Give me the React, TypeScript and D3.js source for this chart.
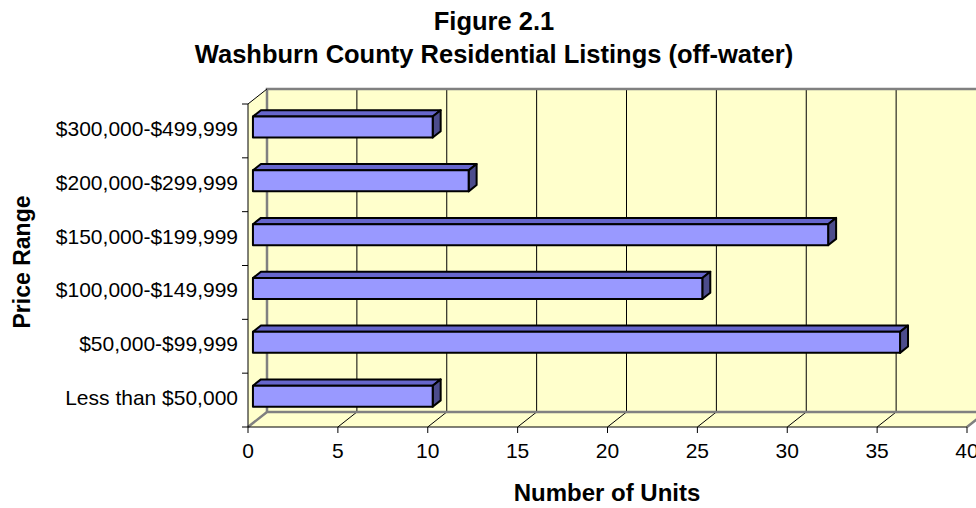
import React from "react";
import * as d3 from "d3";

const categories = [
  "$300,000-$499,999",
  "$200,000-$299,999",
  "$150,000-$199,999",
  "$100,000-$149,999",
  "$50,000-$99,999",
  "Less than $50,000",
];
const units = [10, 12, 32, 25, 36, 10];
const xTicks = [0, 5, 10, 15, 20, 25, 30, 35, 40];

const width = 976,
  height = 508;

// front plane of the 3d box and the depth offset
const left = 248,
  right = 967,
  top = 104,
  bottom = 427;
const depthX = 19,
  depthY = -15;

const FONT = "Arial, 'Liberation Sans', Helvetica, sans-serif";

const App = () => {
  const x = d3.scaleLinear().domain([0, 40]).range([left, right]);
  const y = d3
    .scaleBand()
    .domain(categories)
    .range([top, bottom])
    .paddingInner(0.61)
    .paddingOuter(0.305);
  const band = d3.scaleBand().domain(categories).range([top, bottom]);

  // bars sit from 26% to 68% of the depth
  const f0 = 0.26,
    f1 = 0.68;
  const fx0 = depthX * f0,
    fy0 = depthY * f0,
    fx1 = depthX * f1,
    fy1 = depthY * f1;

  const pts = (a: number[][]) => a.map((p) => p.join(",")).join(" ");

  return (
    <svg
      width={width}
      height={height}
      style={{ position: "absolute", left: 0, top: 0, background: "#fff" }}
      fontFamily={FONT}
    >
      {/* walls */}
      <polygon
        points={pts([
          [left + depthX, top + depthY],
          [right + depthX, top + depthY],
          [right + depthX, bottom + depthY],
          [left + depthX, bottom + depthY],
        ])}
        fill="#FFFFCC"
      />
      <polygon
        points={pts([
          [left, top],
          [left + depthX, top + depthY],
          [left + depthX, bottom + depthY],
          [left, bottom],
        ])}
        fill="#FFFFCC"
      />
      <polygon
        points={pts([
          [left, bottom],
          [right, bottom],
          [right + depthX, bottom + depthY],
          [left + depthX, bottom + depthY],
        ])}
        fill="#FFFFCC"
      />

      {/* gridlines on back wall and floor */}
      {xTicks.slice(1, -1).map((t) => (
        <g key={"g" + t}>
          <line
            x1={x(t) + depthX}
            x2={x(t) + depthX}
            y1={top + depthY}
            y2={bottom + depthY}
            stroke="#000"
            strokeWidth={1}
          />
          <line
            x1={x(t)}
            y1={bottom}
            x2={x(t) + depthX}
            y2={bottom + depthY}
            stroke="#000"
            strokeWidth={1}
          />
        </g>
      ))}

      {/* box edges */}
      <path
        d={`M${left + depthX},${bottom + depthY}V${top + depthY}H${right + depthX}`}
        fill="none"
        stroke="#808080"
        strokeWidth={2.5}
      />
      <path
        d={`M${left},${bottom}L${left + depthX},${bottom + depthY}H${right + depthX}L${right},${bottom}`}
        fill="none"
        stroke="#808080"
        strokeWidth={2.5}
      />
      <line
        x1={left}
        y1={top}
        x2={left + depthX}
        y2={top + depthY}
        stroke="#000"
        strokeWidth={1}
      />

      {/* bars */}
      {categories.map((c, i) => {
        const yc = y(c)!;
        const h = y.bandwidth();
        const xa = x(0) + fx0,
          xb = x(units[i]) + fx0;
        const ya = yc + fy0,
          yb = yc + fy0 + h;
        const dx = fx1 - fx0,
          dy = fy1 - fy0;
        return (
          <g key={c} stroke="#000" strokeWidth={2} strokeLinejoin="round">
            <polygon
              points={pts([
                [xa, ya],
                [xa + dx, ya + dy],
                [xb + dx, ya + dy],
                [xb, ya],
              ])}
              fill="#6666CC"
            />
            <polygon
              points={pts([
                [xb, ya],
                [xb + dx, ya + dy],
                [xb + dx, yb + dy],
                [xb, yb],
              ])}
              fill="#4C4C8C"
            />
            <rect x={xa} y={ya} width={xb - xa} height={h} fill="#9999FF" />
          </g>
        );
      })}

      {/* axes */}
      <line x1={left} x2={left} y1={top} y2={bottom} stroke="#000" />
      <line x1={left} x2={right} y1={bottom} y2={bottom} stroke="#000" />
      {categories.map((c) => (
        <line
          key={"t" + c}
          x1={left - 6}
          x2={left}
          y1={band(c)!}
          y2={band(c)!}
          stroke="#000"
        />
      ))}
      <line x1={left - 6} x2={left} y1={bottom} y2={bottom} stroke="#000" />
      {xTicks.map((t) => (
        <g key={"x" + t}>
          <line
            x1={x(t)}
            x2={x(t)}
            y1={bottom}
            y2={bottom + 6}
            stroke="#000"
          />
          <text
            x={x(t)}
            y={458}
            textAnchor="middle"
            fontSize={21}
            fill="#000"
          >
            {t}
          </text>
        </g>
      ))}
      {categories.map((c) => (
        <text
          key={"l" + c}
          x={238}
          y={band(c)! + band.bandwidth() / 2 + 5}
          textAnchor="end"
          fontSize={21}
          fill="#000"
        >
          {c}
        </text>
      ))}

      {/* titles */}
      <text
        x={494}
        y={30}
        textAnchor="middle"
        fontSize={25.5}
        fontWeight="bold"
      >
        Figure 2.1
      </text>
      <text
        x={494}
        y={63}
        textAnchor="middle"
        fontSize={25.5}
        fontWeight="bold"
      >
        Washburn County Residential Listings (off-water)
      </text>
      <text
        x={607}
        y={501}
        textAnchor="middle"
        fontSize={24}
        fontWeight="bold"
      >
        Number of Units
      </text>
      <text
        transform="translate(30,262) rotate(-90)"
        textAnchor="middle"
        fontSize={23}
        fontWeight="bold"
      >
        Price Range
      </text>
    </svg>
  );
};

export default App;
